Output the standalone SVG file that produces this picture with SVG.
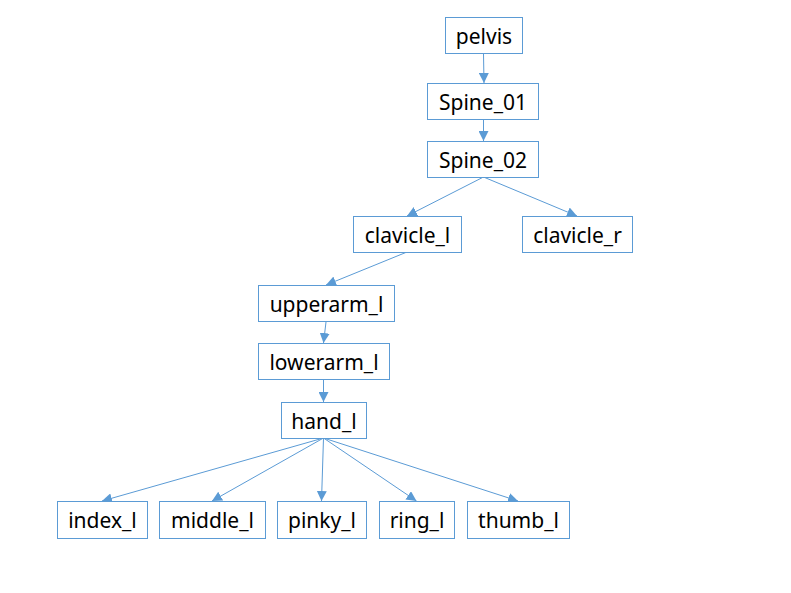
<svg xmlns="http://www.w3.org/2000/svg" width="791" height="593" viewBox="0 0 791 593">
<defs>
<style>
.box{fill:#fff;stroke:#5b9bd5;stroke-width:1}
.t{font-family:"Noto Sans","Open Sans","Liberation Sans",sans-serif;font-size:21px;fill:#000;text-anchor:middle;dominant-baseline:central}
.c{stroke:#5b9bd5;stroke-width:1;fill:none;marker-end:url(#ah)}
</style>
<marker id="ah" viewBox="0 0 10 10" refX="10" refY="5" markerWidth="10" markerHeight="10" markerUnits="userSpaceOnUse" orient="auto">
<path d="M0,0 L10,5 L0,10 z" fill="#5b9bd5"/>
</marker>
</defs>
<rect width="791" height="593" fill="#fff"/>
<g id="connectors">
<line class="c" x1="483.5" y1="54" x2="484" y2="83"/>
<line class="c" x1="483.5" y1="119" x2="483.5" y2="141"/>
<line class="c" x1="483.5" y1="177" x2="407" y2="216"/>
<line class="c" x1="483.5" y1="177" x2="577" y2="216"/>
<line class="c" x1="407" y1="252" x2="326" y2="285"/>
<line class="c" x1="326" y1="322" x2="323.5" y2="343"/>
<line class="c" x1="323.5" y1="380" x2="323.5" y2="402"/>
<line class="c" x1="323.5" y1="438" x2="102" y2="501"/>
<line class="c" x1="323.5" y1="438" x2="212" y2="501"/>
<line class="c" x1="323.5" y1="438" x2="321.5" y2="501"/>
<line class="c" x1="323.5" y1="438" x2="416.5" y2="501"/>
<line class="c" x1="323.5" y1="438" x2="518" y2="501"/>
</g>
<g id="pelvis"><rect class="box" x="445.5" y="17.5" width="77" height="36"/><text class="t" x="484" y="35.5">pelvis</text></g>
<g id="spine_01"><rect class="box" x="427.5" y="83.5" width="111" height="36"/><text class="t" x="483" y="101.5">Spine_01</text></g>
<g id="spine_02"><rect class="box" x="427.5" y="141.5" width="111" height="36"/><text class="t" x="483" y="159.5">Spine_02</text></g>
<g id="clavicle_l"><rect class="box" x="353.5" y="216.5" width="108" height="36"/><text class="t" x="407.5" y="234.5">clavicle_l</text></g>
<g id="clavicle_r"><rect class="box" x="522.5" y="216.5" width="110" height="36"/><text class="t" x="577.5" y="234.5">clavicle_r</text></g>
<g id="upperarm_l"><rect class="box" x="258.5" y="285.5" width="136" height="36"/><text class="t" x="326.5" y="303.5">upperarm_l</text></g>
<g id="lowerarm_l"><rect class="box" x="258.5" y="343.5" width="131" height="36"/><text class="t" x="324" y="361.5">lowerarm_l</text></g>
<g id="hand_l"><rect class="box" x="281.5" y="402.5" width="85" height="36"/><text class="t" x="324" y="420.5">hand_l</text></g>
<g id="index_l"><rect class="box" x="57.5" y="501.5" width="90" height="37"/><text class="t" x="102.5" y="520">index_l</text></g>
<g id="middle_l"><rect class="box" x="159.5" y="501.5" width="106" height="37"/><text class="t" x="212.5" y="520">middle_l</text></g>
<g id="pinky_l"><rect class="box" x="277.5" y="501.5" width="89" height="37"/><text class="t" x="322" y="520">pinky_l</text></g>
<g id="ring_l"><rect class="box" x="379.5" y="501.5" width="75" height="37"/><text class="t" x="417" y="520">ring_l</text></g>
<g id="thumb_l"><rect class="box" x="467.5" y="501.5" width="102" height="37"/><text class="t" x="518.5" y="520">thumb_l</text></g>
</svg>
